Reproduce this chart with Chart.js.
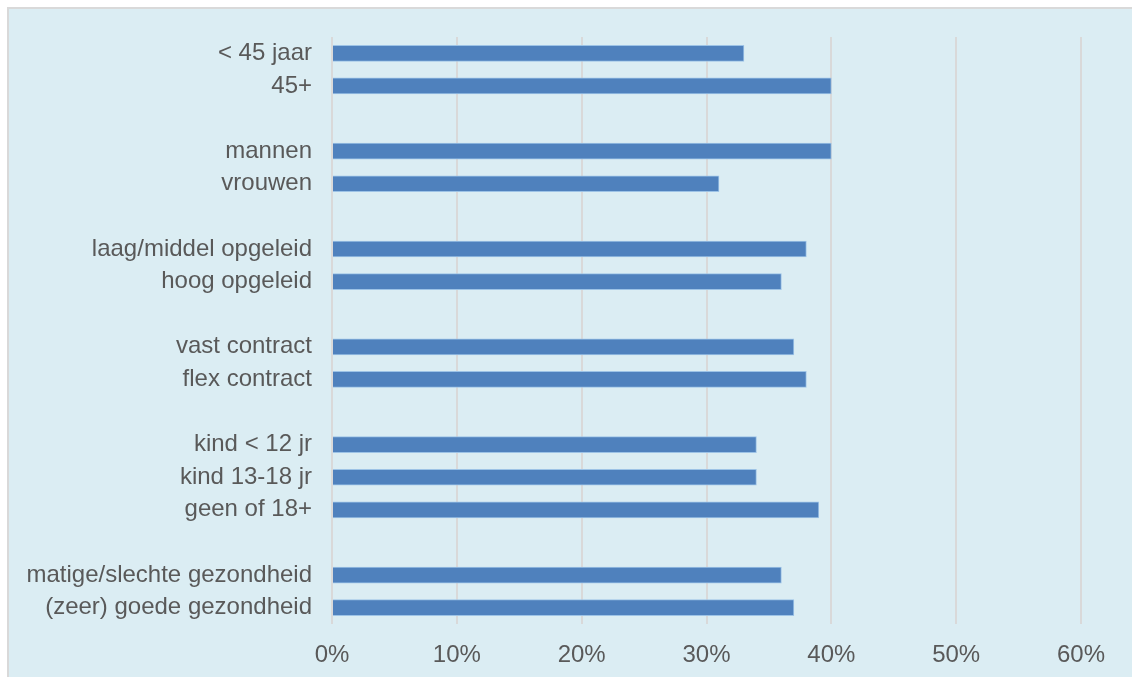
<!DOCTYPE html>
<html>
<head>
<meta charset="utf-8">
<script src="https://cdn.jsdelivr.net/npm/chart.js@4/dist/chart.umd.min.js"></script>
<style>
  html, body { margin: 0; padding: 0; background: #ffffff; }
  #frame {
    position: absolute; left: 7px; top: 7px;
    width: 1125px; height: 670px;
    border-left: 2px solid #d9d9d9; border-top: 2px solid #d9d9d9;
    background: #dbedf3;
  }
  #wrap { position: absolute; left: 0; top: 0; width: 1125px; height: 668px; }
</style>
</head>
<body>
<div id="frame"><div id="wrap"><canvas id="c"></canvas></div></div>
<script>
const categories = [
  '< 45 jaar', '45+', '',
  'mannen', 'vrouwen', '',
  'laag/middel opgeleid', 'hoog opgeleid', '',
  'vast contract', 'flex contract', '',
  'kind < 12 jr', 'kind 13-18 jr', 'geen of 18+', '',
  'matige/slechte gezondheid', '(zeer) goede gezondheid'
];
const values = [
  33, 40, null,
  40, 31, null,
  38, 36, null,
  37, 38, null,
  34, 34, 39, null,
  36, 37
];
const xTicks = [0, 10, 20, 30, 40, 50, 60];

const font = "'Liberation Sans', Arial, sans-serif";

new Chart(document.getElementById('c'), {
  type: 'bar',
  data: {
    labels: categories,
    datasets: [{
      data: values,
      backgroundColor: '#4f81bd',
      borderColor: '#9dc3e6',
      borderWidth: 1,
      borderSkipped: 'start',
      barThickness: 16
    }]
  },
  options: {
    indexAxis: 'y',
    responsive: true,
    maintainAspectRatio: false,
    animation: false,
    layout: { padding: { top: 28, right: 53, bottom: 0, left: 0 } },
    plugins: { legend: { display: false }, tooltip: { enabled: false } },
    scales: {
      x: {
        min: 0, max: 60,
        afterBuildTicks: (axis) => { axis.ticks = xTicks.map(v => ({ value: v })); },
        afterFit: (axis) => { axis.height = 53; axis.paddingLeft = 0; axis.paddingRight = 0; },
        grid: { color: '#d9d9d9', lineWidth: 2, drawTicks: false },
        border: { display: false },
        ticks: {
          color: '#595959',
          font: { family: font, size: 24 },
          padding: 17,
          callback: (v) => v + '%'
        }
      },
      y: {
        afterFit: (axis) => { axis.width = 323; axis.paddingTop = 0; axis.paddingBottom = 0; },
        grid: { display: false, drawTicks: false },
        border: { display: false },
        ticks: {
          color: '#595959',
          font: { family: font, size: 24 },
          padding: 20,
          autoSkip: false
        }
      }
    }
  }
});
</script>
</body>
</html>
